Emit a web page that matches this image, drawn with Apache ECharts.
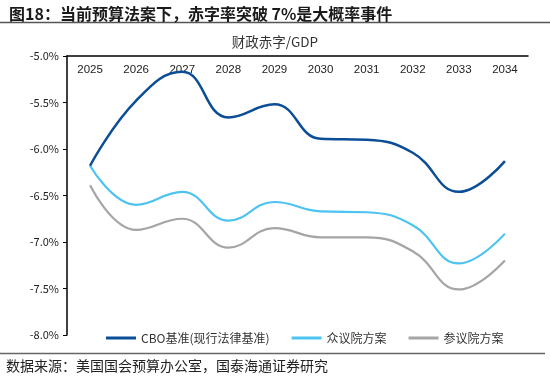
<!DOCTYPE html>
<html><head><meta charset="utf-8">
<script src="https://cdn.jsdelivr.net/npm/echarts@6/dist/echarts.min.js"></script>
<style>html,body{margin:0;padding:0;background:#fff}#c{width:550px;height:381px}</style>
</head><body><div id="c"></div>
<script>
const years = ['2025','2026','2027','2028','2029','2030','2031','2032','2033','2034'];
const cbo = [-6.18,-5.48,-5.17,-5.66,-5.52,-5.89,-5.90,-6.04,-6.46,-6.13];
const house = [-6.18,-6.60,-6.46,-6.77,-6.57,-6.67,-6.68,-6.82,-7.23,-6.91];
const senate = [-6.39,-6.87,-6.75,-7.06,-6.85,-6.95,-6.95,-7.10,-7.51,-7.20];
const seriesNames = ['CBO基准(现行法律基准)','众议院方案','参议院方案'];
const colors = ['#0b4d96','#4dc3f2','#a5a5a5'];
const font = '"Noto Sans CJK SC", sans-serif';

const chart = echarts.init(document.getElementById('c'));
chart.setOption({
  animation:false,
  textStyle:{fontFamily:font},
  title:[{
    text:'图18：当前预算法案下，赤字率突破 7%是大概率事件',
    left:4, top:1,
    textStyle:{fontSize:16, fontWeight:'bold', color:'#1a1a1a', fontFamily:font}
  },{
    text:'财政赤字/GDP', left:'center', top:30,
    textStyle:{fontSize:13.5, fontWeight:'normal', color:'#333', fontFamily:font}
  }],
  graphic:[
    {type:'line', shape:{x1:0,y1:22.5,x2:550,y2:22.5}, style:{stroke:'#555', lineWidth:1.5}},
    {type:'line', shape:{x1:0,y1:353.5,x2:545,y2:353.5}, style:{stroke:'#666', lineWidth:1.5}},
    {type:'text', left:6, top:359, style:{text:'数据来源：美国国会预算办公室，国泰海通证券研究', fontSize:14, fill:'#222', fontFamily:font}}
  ],
  grid:{left:67, right:22, top:56, bottom:46},
  legend:{
    data:seriesNames, left:101, top:327, itemWidth:30, itemHeight:3, itemGap:22,
    icon:'rect',
    textStyle:{fontSize:12, color:'#333', fontFamily:font}
  },
  xAxis:{
    type:'category', data:years, position:'top', boundaryGap:true,
    axisLine:{lineStyle:{color:'#000', width:1.5}},
    axisTick:{inside:true, length:4, lineStyle:{color:'#000'}},
    axisLabel:{inside:true, margin:8, fontSize:11.5, color:'#222', fontFamily:'Arial, "Liberation Sans", sans-serif'},
    splitLine:{show:false}
  },
  yAxis:{
    type:'value', min:-8, max:-5, interval:0.5,
    axisLine:{show:true, lineStyle:{color:'#000', width:1.5}},
    axisTick:{show:true, length:4, lineStyle:{color:'#000'}},
    axisLabel:{fontSize:11, color:'#222', margin:8, formatter:v=>v.toFixed(1)+'%'},
    splitLine:{show:false}
  },
  series:[
    {name:seriesNames[0], type:'line', data:cbo, smooth:0.45, showSymbol:false, symbol:'none', lineStyle:{width:2.5, color:colors[0]}, itemStyle:{color:colors[0]}, z:3},
    {name:seriesNames[1], type:'line', data:house, smooth:0.45, showSymbol:false, symbol:'none', lineStyle:{width:2.2, color:colors[1]}, itemStyle:{color:colors[1]}, z:2},
    {name:seriesNames[2], type:'line', data:senate, smooth:0.45, showSymbol:false, symbol:'none', lineStyle:{width:2.2, color:colors[2]}, itemStyle:{color:colors[2]}, z:1}
  ]
});
</script></body></html>
